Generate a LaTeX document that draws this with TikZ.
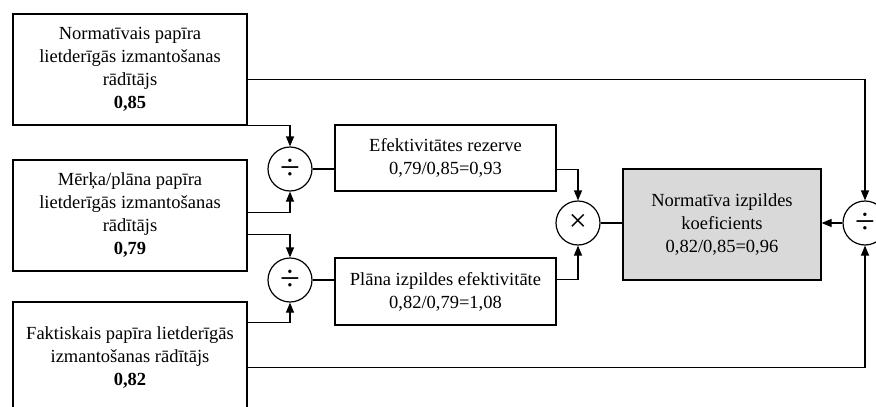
\documentclass[tikz,border=0pt]{standalone}
\usepackage{fontspec}
\setmainfont{Liberation Serif}
\usetikzlibrary{arrows.meta}
\definecolor{greyfill}{HTML}{D9D9D9}
\begin{document}
\begin{tikzpicture}[x=1pt,y=-1pt,line width=1.2pt,
  box/.style={draw,rectangle,inner sep=0pt,align=center,font=\fontsize{18.5}{23}\selectfont},
  op/.style={draw,circle,inner sep=0pt,minimum size=44pt,fill=white,font=\fontsize{36}{36}\selectfont},
  arr/.style={-{Triangle[length=10pt,width=8pt]}}]
\useasboundingbox (0,0) rectangle (876,407);
\clip (0,0) rectangle (876,407);
\node[box,minimum width=234pt,minimum height=111pt] (box1) at (130,69.5)
  {Normatīvais papīra\\lietderīgās izmantošanas\\rādītājs\\\textbf{0,85}};
\node[box,minimum width=234pt,minimum height=111pt] (box2) at (130,215.5)
  {Mērķa/plāna papīra\\lietderīgās izmantošanas\\rādītājs\\\textbf{0,79}};
\node[box,minimum width=234pt,minimum height=112pt] (box3) at (130,358)
  {Faktiskais papīra lietderīgās\\izmantošanas rādītājs\\\textbf{0,82}};
\node[box,minimum width=221pt,minimum height=66pt] (eff) at (445.5,158)
  {Efektivitātes rezerve\\0,79/0,85=0,93};
\node[box,minimum width=221pt,minimum height=67pt] (plan) at (445.5,291.5)
  {Plāna izpildes efektivitāte\\0,82/0,79=1,08};
\node[box,fill=greyfill,minimum width=198pt,minimum height=111pt] (grey) at (722,224.5)
  {Normatīva izpildes\\koeficients\\0,82/0,85=0,96};
\node[op] (div1) at (290,169) {÷};
\node[op] (div2) at (290,280) {÷};
\node[op,font=\fontsize{32}{32}\selectfont] (mul) at (578,223) {×};
\node[op] (div3) at (865,223) {÷};
\draw[arr] (box1.south east) -| (div1.north);
\draw[arr] ([yshift=-53pt]box2.north east) -| (div1.south);
\draw[arr] ([yshift=-75pt]box2.north east) -| (div2.north);
\draw[arr] ([yshift=-21pt]box3.north east) -| (div2.south);
\draw (div1.east) -- (div1 -| eff.west);
\draw (div2.east) -- (div2 -| plan.west);
\draw[arr] ([yshift=-45pt]eff.north east) -| (mul.north);
\draw[arr] ([yshift=-22pt]plan.north east) -| (mul.south);
\draw (mul.east) -- (mul -| grey.west);
\draw[arr] (div3.west) -- (div3 -| grey.east);
\draw[arr] ([yshift=-66pt]box1.north east) -| (div3.north);
\draw[arr] ([yshift=-66pt]box3.north east) -| (div3.south);
\end{tikzpicture}
\end{document}
